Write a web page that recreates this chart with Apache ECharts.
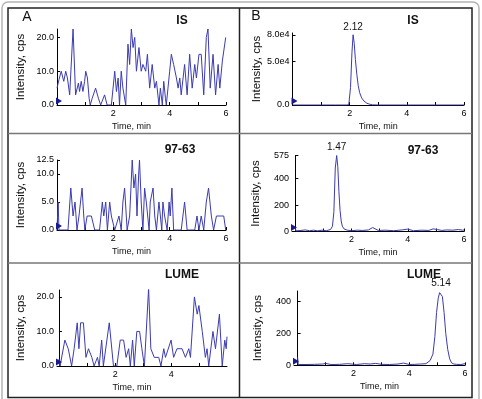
<!DOCTYPE html>
<html>
<head>
<meta charset="utf-8">
<script src="https://cdn.jsdelivr.net/npm/echarts@6/dist/echarts.min.js"></script>
<style>
  html, body { margin: 0; padding: 0; background: #fff; }
  #main { width: 482px; height: 399px; }
</style>
</head>
<body>
<div id="main"></div>
<script>
  // A: blank plasma, B: spiked sample. time in min, intensity in cps
  // IS blank
  var isBlankTime = [0,0.07,0.15,0.24,0.31,0.37,0.45,0.57,0.66,0.76,0.80,0.86,0.92,0.98,1.02,1.08,1.14,1.18,1.25,1.37,1.47,1.55,1.69,1.78,1.93,2.05,2.11,2.17,2.22,2.28,2.34,2.44,2.52,2.58,2.64,2.70,2.76,2.82,2.91,2.99,3.05,3.15,3.21,3.29,3.38,3.47,3.53,3.62,3.67,3.74,3.79,3.85,3.88,4.00,4.06,4.14,4.24,4.30,4.36,4.41,4.53,4.62,4.71,4.80,4.89,4.95,5.04,5.12,5.21,5.30,5.36,5.44,5.54,5.63,5.72,5.78,5.87,5.99];
  var isBlankInt = [5,7.5,10,7,10,8,3,22.5,3,6.5,4,7,4,7,10,8,2,0,2,5,2,0,3,0,0,10,4,8,0,10,5,0,18,12,22.5,17,20,10,17,10,12,10,15,5,12,5,7,0,5,0,7,2,0,10,15,12,8,5,8,3,12,3,15,5,12,8,15,15,3,20,22.5,5,15,3,12,5,13,20];
  // IS sample
  var isSampleTime = [0,0.5,1.0,1.5,1.9,1.97,2.03,2.08,2.12,2.16,2.2,2.25,2.3,2.35,2.42,2.5,2.6,2.7,2.8,3.0,4.0,5.0,6.0];
  var isSampleInt = [0,0,0,0,0,500,20000,60000,80000,70000,52000,35000,22000,14000,8000,4500,2000,900,200,0,0,0,0];
  // 97-63 blank
  var cpdBlankTime = [0,0.04,0.07,0.39,0.49,0.57,0.64,0.71,0.78,0.89,0.95,0.99,1.07,1.22,1.34,1.51,1.61,1.66,1.73,1.79,1.87,1.93,2.05,2.20,2.28,2.34,2.40,2.49,2.58,2.67,2.73,2.79,2.84,2.90,2.93,2.99,3.05,3.11,3.17,3.27,3.31,3.41,3.47,3.53,3.62,3.67,3.72,3.76,3.82,3.91,3.98,4.02,4.08,4.14,4.41,4.53,4.62,4.89,4.97,5.04,5.12,5.21,5.30,5.38,5.48,5.56,5.66,5.92,5.99];
  var cpdBlankInt = [0,5,0,0,7.5,2.5,5,0,2.5,7.5,2.5,0,2.5,2.5,0,0,5,2.5,5,0,5,2.5,0,2.5,0,5,7.5,0,2.5,12.5,7.5,10,2.5,10,12.5,5,0,7.5,5,0,5,7.5,2.5,0,5,2.5,0,5,2.5,0,5,2.5,7.5,0,0,5,0,0,2.5,0,2.5,0,5,7.5,2.5,0,2.5,2.5,0];
  // 97-63 sample
  var cpdSampleTime = [0,0.02,0.05,0.2,0.35,0.5,0.65,0.8,0.95,1.1,1.25,1.32,1.37,1.42,1.47,1.51,1.55,1.59,1.63,1.67,1.73,1.85,2.0,2.2,2.4,2.6,2.75,2.82,2.95,3.2,3.5,3.8,4.0,4.2,4.5,4.75,4.9,5.05,5.2,5.4,5.6,5.8,5.95,6.0];
  var cpdSampleInt = [25,5,10,8,12,6,10,5,10,6,15,40,150,480,575,490,300,160,80,40,20,10,6,10,8,12,30,20,8,10,6,12,18,6,10,8,20,15,8,12,10,15,10,12];
  // LUME blank
  var lumeBlankTime = [0,0.04,0.21,0.33,0.45,0.54,0.65,0.71,0.77,0.87,0.96,1.05,1.17,1.25,1.37,1.43,1.52,1.58,1.79,1.85,1.94,2.06,2.18,2.30,2.39,2.48,2.54,2.62,2.68,2.77,2.87,2.95,3.04,3.19,3.27,3.39,3.55,3.63,3.73,3.79,3.99,4.08,4.20,4.38,4.50,4.62,4.68,4.82,4.92,4.98,5.10,5.21,5.27,5.33,5.48,5.57,5.71,5.81,5.90,5.95,5.98];
  var lumeBlankInt = [2,0,7.5,5,0,5,12.5,5,12.5,12.5,2.5,5,2.5,0,2.5,0,7.5,0,12.5,7.5,0,0,7.5,7.5,2.5,5,0,7.5,0,10,10,5,0,22.5,5,2.5,2.5,0,5,2.5,7.5,2.5,5,5,2.5,5,2.5,20,15,17.5,10,2.5,5,0,10,5,15,0,7.5,5,8.5];
  // LUME sample
  var lumeSampleTime = [0,0.02,0.05,0.3,0.6,0.9,1.0,1.2,1.5,1.8,2.1,2.4,2.6,2.8,3.0,3.3,3.6,3.8,4.0,4.2,4.4,4.6,4.75,4.85,4.92,4.98,5.04,5.09,5.14,5.19,5.25,5.31,5.38,5.45,5.52,5.6,5.7,5.85,6.0];
  var lumeSampleInt = [50,5,8,5,6,8,12,5,6,10,5,10,8,12,6,5,8,14,5,6,8,10,30,70,180,330,420,455,462,430,330,200,100,40,15,8,6,5,10];

  // retention times shown above the peaks
  var peakTimes = [2.12, 1.47, 5.14];
  var peakHeights = [80000, 575, 462];

  // tick labels
  var yTicksIsBlank = [0, 10, 20];
  var yTicksIsSample = [0, 50000, 80000];
  var yTicksCpdBlank = [0, 5, 10, 12.5];
  var yTicksCpdSample = [0, 200, 400, 575];
  var yTicksLumeBlank = [0, 10, 20];
  var yTicksLumeSample = [0, 200, 400];
  var xTicks = [2, 4, 6];
  var xTicksLume = [2, 4];

  function zip(t, v) {
    return t.map(function (x, i) { return [x, v[i]]; });
  }

  var lineColor = '#3b3bb2';
  var font = 'Liberation Sans';

  var panels = [
    {grid: {left: 57, top: 29, width: 169, height: 76}, xMin: 0, xMax: 6, yMax: 22.5, yTicks: yTicksIsBlank, xLabels: xTicks,
     fmt: function (v) { return v.toFixed(1); }, data: zip(isBlankTime, isBlankInt), padX: 20},
    {grid: {left: 292.5, top: 33, width: 171.5, height: 72}, xMin: 0, xMax: 6, yMax: 82000, yTicks: yTicksIsSample, xLabels: xTicks,
     fmt: function (v) { return v === 0 ? '0.0' : (v / 10000).toFixed(1) + 'e4'; }, data: zip(isSampleTime, isSampleInt), peak: 0, padX: 0},
    {grid: {left: 57, top: 160, width: 169, height: 70}, xMin: 0, xMax: 6, yMax: 12.5, yTicks: yTicksCpdBlank, xLabels: xTicks,
     fmt: function (v) { return v.toFixed(1); }, data: zip(cpdBlankTime, cpdBlankInt), padX: 20},
    {grid: {left: 292, top: 155.5, width: 172, height: 76}, xMin: -0.12, xMax: 6, yMax: 575, yTicks: yTicksCpdSample, xLabels: xTicks,
     fmt: function (v) { return String(v); }, data: zip(cpdSampleTime, cpdSampleInt), peak: 1, padX: 0},
    {grid: {left: 57, top: 290, width: 170, height: 76}, xMin: -0.07, xMax: 5.98, yMax: 22, yTicks: yTicksLumeBlank, xLabels: xTicksLume,
     fmt: function (v) { return v.toFixed(1); }, data: zip(lumeBlankTime, lumeBlankInt), padX: 20},
    {grid: {left: 294, top: 291, width: 171, height: 74.3}, xMin: -0.13, xMax: 6, yMax: 465, yTicks: yTicksLumeSample, xLabels: xTicks,
     fmt: function (v) { return String(v); }, data: zip(lumeSampleTime, lumeSampleInt), peak: 2, padX: 0}
  ];

  var grids = [], xAxes = [], yAxes = [], series = [];
  panels.forEach(function (p, i) {
    grids.push(p.grid);
    xAxes.push({
      type: 'value', gridIndex: i, min: p.xMin, max: p.xMax,
      name: 'Time, min', nameLocation: 'middle', nameGap: 17,
      nameTextStyle: {fontFamily: font, fontSize: 9, color: '#111', padding: [0, p.padX, 0, 0]},
      axisLine: {show: true, onZero: false, lineStyle: {color: '#000', width: 1}},
      axisTick: {show: true, inside: true, length: 3, customValues: [1, 2, 3, 4, 5, 6].filter(function (v) { return v <= p.xMax; }), lineStyle: {color: '#000'}},
      axisLabel: {customValues: p.xLabels, fontFamily: font, fontSize: 9, color: '#000', margin: 4},
      splitLine: {show: false}
    });
    yAxes.push({
      type: 'value', gridIndex: i, min: 0, max: p.yMax,
      name: 'Intensity, cps', nameLocation: 'middle', nameGap: 30,
      nameTextStyle: {fontFamily: font, fontSize: 11.5, color: '#111'},
      axisLine: {show: true, lineStyle: {color: '#000', width: 1}},
      axisTick: {show: true, inside: true, length: 3, customValues: p.yTicks, lineStyle: {color: '#000'}},
      axisLabel: {customValues: p.yTicks, formatter: p.fmt, fontFamily: font, fontSize: 9, color: '#000', margin: 3},
      splitLine: {show: false}
    });
    var s = {
      type: 'line', xAxisIndex: i, yAxisIndex: i, data: p.data,
      showSymbol: false, silent: true,
      lineStyle: {color: lineColor, width: 1},
      markPoint: {
        silent: true,
        data: [{coord: [p.xMin, 0], symbol: 'triangle', symbolRotate: -90, symbolSize: [7, 6],
                symbolOffset: [2, -4], itemStyle: {color: '#1a1a8c'}, label: {show: false}}]
      }
    };
    if (p.peak !== undefined) {
      s.markPoint.data.push({
        coord: [peakTimes[p.peak], peakHeights[p.peak]], symbol: 'circle', symbolSize: 0,
        label: {show: true, position: 'top', distance: 3, formatter: peakTimes[p.peak].toFixed(2),
                fontFamily: font, fontSize: 10, color: '#111'}
      });
    }
    series.push(s);
  });

  function txt(x, y, text, size, weight) {
    return {type: 'text', x: x, y: y, style: {text: text, fontFamily: font, fontSize: size, fontWeight: weight || 'normal',
      fill: '#111', align: 'center', verticalAlign: 'middle'}};
  }

  var chart = echarts.init(document.getElementById('main'), null, {renderer: 'canvas'});
  chart.setOption({
    animation: false,
    backgroundColor: '#fff',
    grid: grids,
    xAxis: xAxes,
    yAxis: yAxes,
    series: series,
    graphic: [
      {type: 'rect', shape: {x: 2, y: 2, width: 477, height: 410, r: 6}, style: {fill: 'none', stroke: '#b4b4b4', lineWidth: 1.5}},
      {type: 'rect', shape: {x: 8, y: 8, width: 464, height: 389.5}, style: {fill: 'none', stroke: '#222', lineWidth: 1.5}},
      {type: 'line', shape: {x1: 239.5, y1: 8, x2: 239.5, y2: 397.5}, style: {stroke: '#222', lineWidth: 1.5}},
      {type: 'line', shape: {x1: 8, y1: 133.5, x2: 472, y2: 133.5}, style: {stroke: '#777', lineWidth: 1.5}},
      {type: 'line', shape: {x1: 8, y1: 263, x2: 472, y2: 263}, style: {stroke: '#777', lineWidth: 1.5}},
      txt(27, 17, 'A', 14),
      txt(256, 16, 'B', 14),
      txt(182, 21, 'IS', 12, 'bold'),
      txt(413, 21, 'IS', 12, 'bold'),
      txt(180, 150, '97-63', 12, 'bold'),
      txt(423, 151, '97-63', 12, 'bold'),
      txt(182, 275, 'LUME', 12, 'bold'),
      txt(424, 275, 'LUME', 12, 'bold')
    ]
  });
  window.addEventListener('resize', function () {
    chart.resize();
  });
</script>
</body>
</html>
